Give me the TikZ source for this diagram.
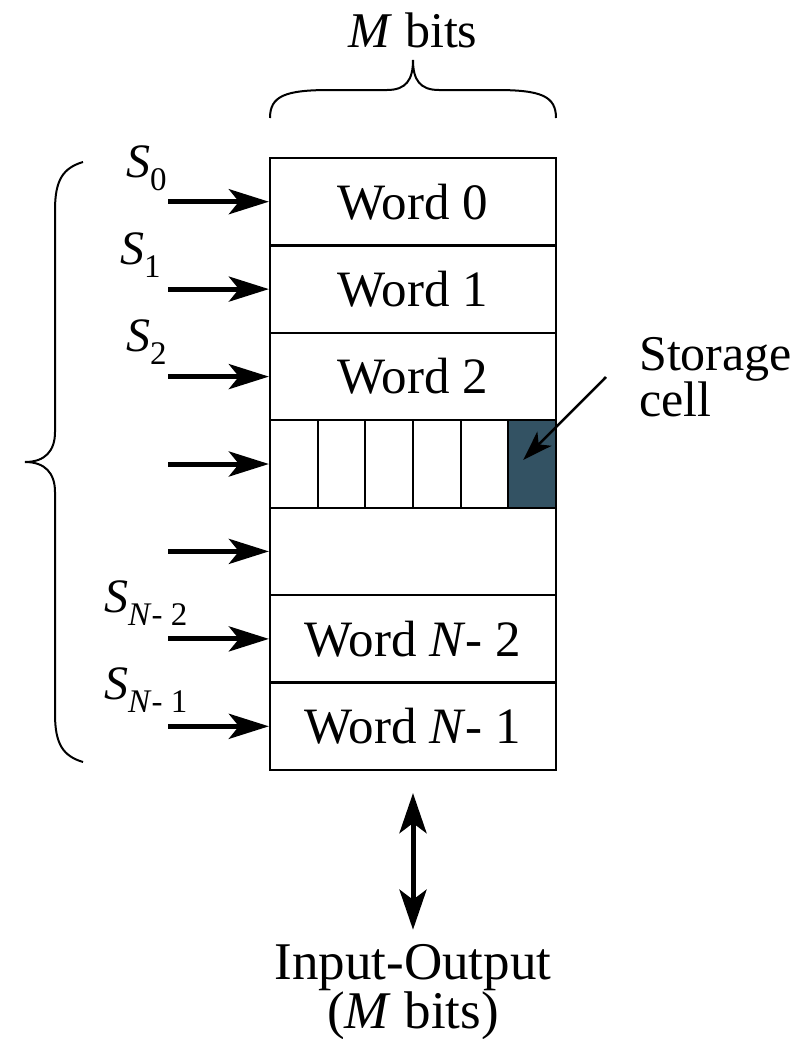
\documentclass[tikz,border=0pt]{standalone}
\usepackage{fontspec}
\setmainfont{Liberation Serif}
\usetikzlibrary{arrows.meta}
\definecolor{cellfill}{RGB}{51,82,99}
\newcommand\selsub[1]{\raisebox{-13pt}{\fontsize{33}{33}\selectfont #1}}
\newcommand\sellabel[1]{\fontsize{48}{48}\selectfont\textit{S}\selsub{#1}}

\begin{document}
\begin{tikzpicture}[x=1pt,y=-1pt,
  txt/.style={font=\fontsize{50}{50}\selectfont, inner sep=0pt},
  iotxt/.style={font=\fontsize{53}{53}\selectfont, inner sep=0pt},
  wordbox/.style={draw, line width=2.2pt, minimum width=286pt, minimum height=87.43pt,
    inner sep=0pt, font=\fontsize{51}{51}\selectfont},
  cellbox/.style={draw, line width=2.2pt, minimum width=47.67pt, minimum height=87.43pt, inner sep=0pt},
  selarrow/.style={line width=5pt, -{Stealth[length=40pt, width=25pt, inset=10pt]}},
  ioarrow/.style={line width=5pt, {Stealth[length=40pt, width=27pt, inset=10pt]}-{Stealth[length=40pt, width=27pt, inset=10pt]}},
  thinarrow/.style={line width=2.5pt, -{Stealth[length=30pt, width=20pt, inset=8pt]}},
  brace/.style={line width=2pt}]
\useasboundingbox (0,0) rectangle (806,1039);

% memory words
\node[wordbox] (w0) at (413,201.7) {Word 0};
\node[wordbox] (w1) at (413,289.1) {Word 1};
\node[wordbox] (w2) at (413,376.6) {Word 2};
\node[wordbox] (w3) at (413,464.0) {};
\node[wordbox] (w4) at (413,551.4) {};
\node[wordbox] (w5) at (413,638.9) {Word \textit{N}-\ 2};
\node[wordbox] (w6) at (413,726.3) {Word \textit{N}-\ 1};

% storage cells of one word
\foreach \i in {1,...,5}
  \node[cellbox] (c\i) at ({270+47.67*(\i-0.5)},464.0) {};
\node[cellbox, fill=cellfill] (c6) at ({270+47.67*5.5},464.0) {};

% select lines
\foreach \r/\y in {0/201.7,1/289.1,2/376.6,3/464.0,4/551.4,5/638.9,6/726.3}
  \coordinate (in\r) at (168,\y);
\foreach \r in {0,...,6}
  \draw[selarrow] (in\r) -- (w\r.west);

\node[anchor=base west, inner sep=0pt] (s0) at (126,177) {\sellabel{0}};
\node[anchor=base west, inner sep=0pt] (s1) at (120,264) {\sellabel{1}};
\node[anchor=base west, inner sep=0pt] (s2) at (126,351) {\sellabel{2}};
\node[anchor=base west, inner sep=0pt] (s5) at (104,612) {\sellabel{\textit{N}-\ 2}};
\node[anchor=base west, inner sep=0pt] (s6) at (104,699) {\sellabel{\textit{N}-\ 1}};

% word width brace
\node[txt] (mb) at (413,30) {\textit{M} bits};
\draw[brace] (270,118) .. controls (270,96) and (285,90) .. (330,90) -- (387,90)
  .. controls (406,90) and (413,80) .. (413,60)
  .. controls (413,80) and (420,90) .. (439,90) -- (496,90)
  .. controls (541,90) and (556,96) .. (556,118);

% address brace
\draw[brace] (83,162) .. controls (63,168) and (55,180) .. (55,210) -- (55,432)
  .. controls (55,451) and (45,462) .. (25,462)
  .. controls (45,462) and (55,473) .. (55,492) -- (55,714)
  .. controls (55,744) and (63,756) .. (83,762);

% storage cell label
\node[txt, anchor=base west] (sc) at (639,370) {Storage};
\node[txt, anchor=base west] (sc2) at (639,416) {cell};
\coordinate (sa) at (606,377);
\draw[thinarrow] (sa) -- ([shift={(-9,-4)}]c6.center);

% data port
\node[iotxt, anchor=base] (io) at (413,979) {Input-Output};
\node[iotxt, anchor=base] (io2) at (413,1028) {(\textit{M} bits)};
\draw[ioarrow] ([shift={(0,22)}]w6.south) -- ([shift={(0,-14)}]io.north);
\end{tikzpicture}
\end{document}
